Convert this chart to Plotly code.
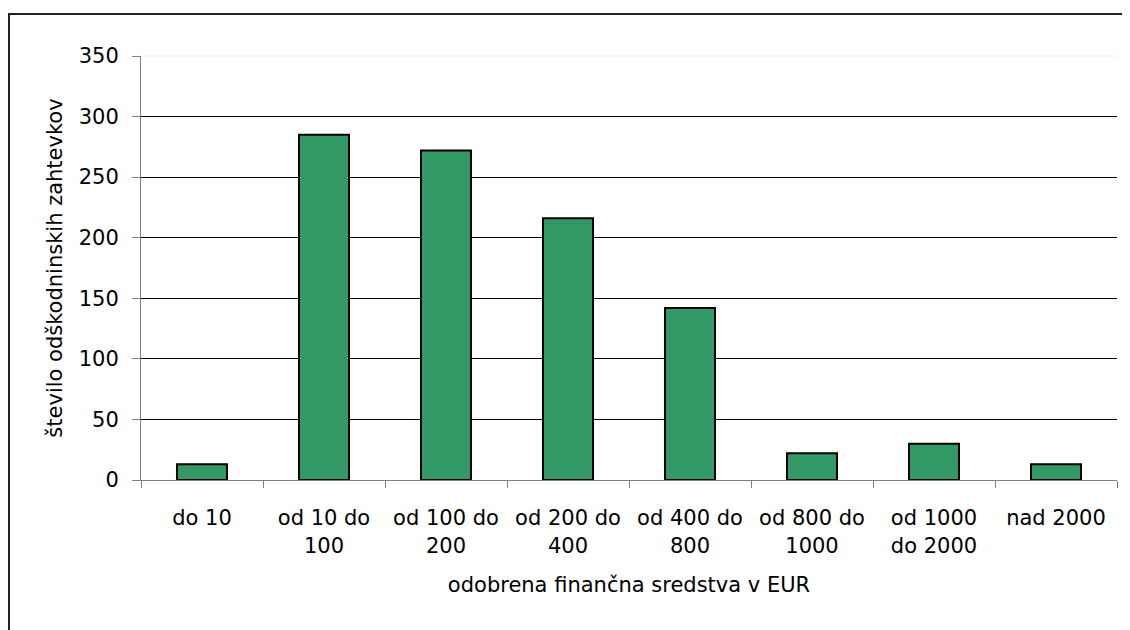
import plotly.graph_objects as go

categories = ["do 10", "od 10 do<br>100", "od 100 do<br>200", "od 200 do<br>400",
              "od 400 do<br>800", "od 800 do<br>1000", "od 1000<br>do 2000", "nad 2000"]
counts = [13, 285, 272, 216, 142, 22, 30, 13]
y_ticks = [0, 50, 100, 150, 200, 250, 300, 350]

x_title = "odobrena finančna sredstva v EUR"
y_title = "število odškodninskih zahtevkov"

FONT = "DejaVu Sans, Liberation Sans, Arial, sans-serif"

fig = go.Figure(go.Bar(
    x=categories, y=counts,
    marker=dict(color="#339966", line=dict(color="#000000", width=2)),
    width=0.41,
))

# page is offset by the 8px body margin, so margins compensate
L, R, T, B = 133, 21, 48, 158
PW, PH = 1130 - L - R, 630 - T - B
fig.update_layout(
    width=1130, height=630,
    margin=dict(l=L, r=R, t=T, b=B),
    paper_bgcolor="white", plot_bgcolor="white",
    font=dict(family=FONT, size=21, color="#000000"),
    showlegend=False,
    xaxis=dict(
        type="category",
        showline=True, linecolor="#808080", linewidth=1,
        ticks="outside", tickson="boundaries", ticklen=7, tickcolor="#808080",
        showgrid=False,
        ticklabelstandoff=19,
        title=dict(text=x_title, font=dict(size=21), standoff=20),
    ),
    yaxis=dict(
        range=[0, 350], tickvals=y_ticks,
        showline=True, linecolor="#808080", linewidth=1,
        ticks="outside", ticklen=8, tickcolor="#808080",
        showgrid=True, gridcolor="#000000", gridwidth=1,
        zeroline=False,
        ticklabelstandoff=9,
        title=dict(text=y_title, font=dict(size=21), standoff=10),
    ),
    shapes=[
        dict(type="line", xref="x domain", yref="y domain", x0=0, x1=1, y0=1, y1=1,
             line=dict(color="#eeeeee", width=1), layer="above"),
        dict(type="rect", xref="paper", yref="paper",
             x0=(1 - L) / PW, x1=1.2,
             y0=-0.5, y1=(630 - B - 6) / PH,
             line=dict(color="#222222", width=2), layer="below"),
    ],
)

fig.write_html("out.html")
